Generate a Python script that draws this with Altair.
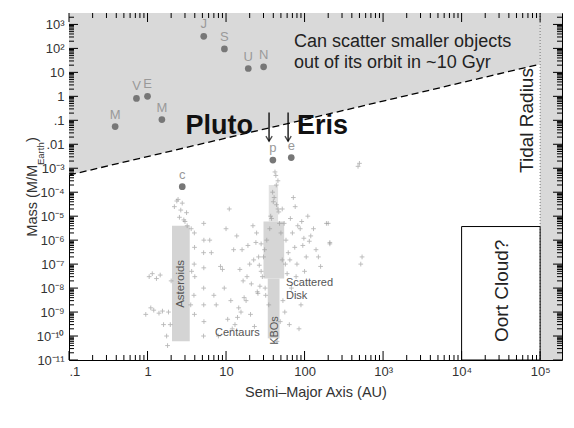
import altair as alt
import pandas as pd

# ---------------- data ----------------
planet_names = ["M", "V", "E", "M", "J", "S", "U", "N", "p", "e", "c"]
planet_a = [0.387, 0.723, 1.0, 1.524, 5.2, 9.54, 19.2, 30.1, 39.5, 67.7, 2.77]
planet_m = [0.055, 0.815, 1.0, 0.107, 318, 95.2, 14.5, 17.1, 0.0022, 0.0028, 0.00017]

# small bodies (semi-major axis AU, mass in Earth masses)
small_a = [
    # near-Earth
    1.05, 1.15, 1.3, 1.45, 1.2, 1.4, 1.55, 1.1, 1.6, 1.75, 0.95, 1.8,
    # asteroid outliers, Hildas, Trojans
    2.36, 2.77, 3.14, 2.55, 3.0, 2.2, 3.2, 2.65, 2.45, 2.9, 1.95, 1.85, 2.0,
    3.6, 3.65, 3.55, 3.95, 3.97, 3.93, 4.0, 3.9, 3.96,
    5.2, 5.22, 5.18, 5.21, 5.19, 5.2, 5.23, 5.17,
    # centaurs
    6.5, 7.5, 8.5, 9.5, 10.5, 11.5, 12.5, 13.7, 15, 16.5, 18, 20, 22, 24, 26,
    28, 8, 10, 14, 17, 21, 25, 7, 12, 19, 23, 9, 15.5, 27, 11, 6.2, 13,
    18.5, 22.5, 25.5, 16, 20.5, 24.5, 14.5, 26.5,
    # KBOs (outside the dense core)
    43.1, 45.8, 43.7, 39.2, 41, 44, 47, 38, 48, 36, 42, 40, 46, 37, 50, 33,
    31, 52, 35, 44.5, 29, 30, 32, 28, 57, 53, 49, 31.5,
    # scattered disk
    52, 55, 58, 62, 66, 70, 75, 80, 88, 95, 105, 120, 140, 160, 190, 210, 60,
    68, 78, 90, 110, 130, 150, 56, 64, 85, 100, 72, 65, 82, 98, 115, 76, 92,
    # distant
    200, 210, 480, 500, 520, 540,
]
small_m = [
    3e-8, 4e-8, 2.5e-8, 3.5e-8, 1.2e-9, 9e-10, 1.1e-9, 1.5e-9, 3e-10, 1e-10, 8e-10, 4e-11,
    4.3e-5, 3.5e-5, 1.4e-5, 9e-6, 6e-6, 2.5e-5, 4e-6, 1.8e-5, 5e-5, 7e-6, 3e-10, 1e-9, 2e-8,
    3e-6, 5e-8, 2e-9, 2e-6, 5e-7, 1e-7, 3e-8, 5e-9, 8e-10,
    5e-6, 1e-6, 3e-7, 7e-8, 1e-8, 2e-9, 4e-10, 1e-10,
    3e-7, 2e-9, 8e-8, 1e-8, 5e-10, 3e-9, 4e-7, 1.5e-6, 6e-8, 2e-8, 3e-9, 1e-7, 4e-6, 8e-7, 2e-7,
    5e-8, 1e-10, 3e-6, 6e-10, 4e-9, 1.5e-8, 7e-9, 5e-9, 2e-10, 6e-7, 2.5e-10, 6e-8, 1e-9, 1.2e-8, 2e-5, 1e-6, 3e-10,
    3e-8, 1.5e-7, 6e-9, 4e-7, 8e-10, 2e-6, 1.5e-9, 9e-8,
    5e-4, 3e-4, 2e-4, 1e-4, 6e-5, 3e-5, 1.5e-5, 8e-6, 5e-6, 3e-6, 7e-4, 4e-5, 2e-5, 1e-5, 2e-6,
    1e-6, 4e-7, 1.5e-7, 2e-9, 6e-11, 3e-8, 2e-7, 5e-9, 7e-7, 1e-7, 3e-9, 4e-10, 1e-8,
    2e-5, 5e-6, 1e-6, 3e-7, 8e-6, 2e-6, 5e-7, 1e-7, 3e-6, 6e-7, 2e-7, 1.5e-6, 4e-7, 8e-8, 5e-6,
    7e-7, 4e-8, 1e-8, 3e-8, 2e-9, 1e-5, 3e-6, 2e-7, 1e-9, 3e-10, 2e-10, 5e-8, 6e-5,
    1.5e-7, 4e-6, 1.2e-6, 9e-7, 2.5e-5, 6e-6,
    5e-6, 8e-7, 1.2e-3, 1.6e-3, 1e-7, 2e-7,
]

# dense populations (asteroid belt, Kuiper belt)
band_a1 = [2.05, 35.0, 30.0, 34.0]
band_a2 = [3.45, 46.0, 55.0, 48.0]
band_m1 = [6e-11, 6e-6, 2.5e-8, 8e-11]
band_m2 = [4e-6, 2e-4, 6e-6, 2.5e-8]
band_tone = ["#d4d4d4", "#e2e2e2", "#d6d6d6", "#d4d4d4"]

# Stern-Levison boundary
boundary_a = [0.1, 1e5]
boundary_m = [5.2e-4, 22]
mass_top = 3e3

tidal_radius = [1e5]
oort_a1, oort_a2, oort_m = [1e4], [1e5], [3.7e-6]

# arrows pointing at Pluto and Eris
arrow_a = [35.3, 61.7]
arrow_m_tail = [0.21, 0.21]
arrow_m_tip = [0.0135, 0.0135]

x_ticks = [0.1, 1, 10, 100, 1e3, 1e4, 1e5]
x_labels = [".1", "1", "10", "100", "10³", "10⁴", "10⁵"]
y_ticks = [1e-11, 1e-10, 1e-9, 1e-8, 1e-7, 1e-6, 1e-5, 1e-4, 1e-3, 0.01, 0.1, 1, 10, 100, 1000]
y_labels = ["10⁻¹¹", "10⁻¹⁰", "10⁻⁹", "10⁻⁸", "10⁻⁷", "10⁻⁶", "10⁻⁵", "10⁻⁴",
            "10⁻³", ".01", ".1", "1", "10", "10²", "10³"]

# ---------------- layout ----------------
W, H = 493, 347
FONT = "Liberation Sans"
xs = alt.Scale(type="log", domain=[0.1, 1.9e5], nice=False)
ys = alt.Scale(type="log", domain=[1e-11, mass_top], nice=False)

x_lab_expr = "[" + ",".join("'%s'" % s for s in x_labels) + "][round(log(datum.value)/LN10)+1]"
y_lab_expr = "[" + ",".join("'%s'" % s for s in y_labels) + "][round(log(datum.value)/LN10)+11]"

xa = alt.Axis(values=x_ticks, labelExpr=x_lab_expr, title="Semi–Major Axis (AU)",
              ticks=False, domain=False, grid=False, labelPadding=5, titlePadding=7,
              labelFont=FONT, labelFontSize=13, labelColor="#333",
              titleFont=FONT, titleFontSize=14.5, titleFontWeight="normal", titleColor="#333")
ya = alt.Axis(values=y_ticks, labelExpr=y_lab_expr, title="",
              ticks=False, domain=False, grid=False, labelPadding=5,
              labelFont=FONT, labelFontSize=13, labelColor="#333")

X = lambda f: alt.X(f + ":Q", scale=xs, axis=xa)
Y = lambda f: alt.Y(f + ":Q", scale=ys, axis=ya)

shade = "#d9d9d9"

boundary = pd.DataFrame({"a": boundary_a, "m": boundary_m, "top": [mass_top] * 2})
region = alt.Chart(boundary).mark_area(color=shade, opacity=1).encode(
    x=X("a"), y=Y("m"), y2="top:Q")
line = alt.Chart(boundary).mark_line(color="black", strokeDash=[7, 4], strokeWidth=1.3).encode(
    x=X("a"), y=Y("m"))

tidal = pd.DataFrame({"a": tidal_radius})
strip = alt.Chart(tidal).mark_rect(color=shade).encode(
    x=X("a"), x2=alt.value(W), y=alt.value(0), y2=alt.value(H))
tidal_line = alt.Chart(tidal).mark_rule(color="#777", strokeDash=[1, 2]).encode(
    x=X("a"), y=alt.value(0), y2=alt.value(H))

bands = pd.DataFrame({"a": band_a1, "a2": band_a2, "m": band_m1, "m2": band_m2, "c": band_tone})
band_layer = alt.Chart(bands).mark_rect().encode(
    x=X("a"), x2="a2:Q", y=Y("m"), y2="m2:Q", color=alt.Color("c:N", scale=None))

small = pd.DataFrame({"a": small_a, "m": small_m})
small_layer = alt.Chart(small).mark_point(
    shape="M-1,0L1,0M0,-1L0,1", size=22, color="#9a9a9a", strokeWidth=0.9).encode(
    x=X("a"), y=Y("m"))

oort = pd.DataFrame({"a": oort_a1, "a2": oort_a2, "m": oort_m})
oort_box = alt.Chart(oort).mark_rect(fillOpacity=0, stroke="black", strokeWidth=1).encode(
    x=X("a"), x2="a2:Q", y=Y("m"), y2=alt.value(H))

planets = pd.DataFrame({"name": planet_names, "a": planet_a, "m": planet_m})
planet_pts = alt.Chart(planets).mark_circle(size=45, color="#777777", opacity=1).encode(
    x=X("a"), y=Y("m"))
planet_lab = alt.Chart(planets).mark_text(font=FONT, fontSize=13, color="#999999", dy=-12).encode(
    x=X("a"), y=Y("m"), text="name:N")

arrows = pd.DataFrame({"a": arrow_a, "m": arrow_m_tail, "m2": arrow_m_tip})
arrow_shaft = alt.Chart(arrows).mark_rule(color="black", strokeWidth=1.3).encode(
    x=X("a"), y=Y("m"), y2="m2:Q")
arrow_head = alt.Chart(arrows).mark_point(
    shape="M-1,-1.6L0,0L1,-1.6", size=40, color="black", strokeWidth=1.3, filled=False).encode(
    x=X("a"), y=Y("m2"))

# inward ticks
minor_x = [m * 10 ** k for k in range(-1, 6) for m in range(2, 10) if m * 10 ** k < 1.9e5]
minor_y = [m * 10.0 ** k for k in range(-11, 4) for m in range(2, 10) if m * 10.0 ** k < 3e3]
tx = pd.DataFrame({"a": x_ticks})
tmx = pd.DataFrame({"a": minor_x})
ty = pd.DataFrame({"m": y_ticks})
tmy = pd.DataFrame({"m": minor_y})
tick_layers = [
    alt.Chart(tx).mark_rule(color="black").encode(x=X("a"), y=alt.value(H - 9), y2=alt.value(H)),
    alt.Chart(tx).mark_rule(color="black").encode(x=X("a"), y=alt.value(0), y2=alt.value(9)),
    alt.Chart(tmx).mark_rule(color="black").encode(x=X("a"), y=alt.value(H - 5), y2=alt.value(H)),
    alt.Chart(tmx).mark_rule(color="black").encode(x=X("a"), y=alt.value(0), y2=alt.value(5)),
    alt.Chart(ty).mark_rule(color="black").encode(y=Y("m"), x=alt.value(0), x2=alt.value(9)),
    alt.Chart(ty).mark_rule(color="black").encode(y=Y("m"), x=alt.value(W - 9), x2=alt.value(W)),
    alt.Chart(tmy).mark_rule(color="black").encode(y=Y("m"), x=alt.value(0), x2=alt.value(5)),
    alt.Chart(tmy).mark_rule(color="black").encode(y=Y("m"), x=alt.value(W - 5), x2=alt.value(W)),
]


def note(text, a, m, size, color="#111", weight="normal", angle=0, align="left", baseline="alphabetic"):
    d = pd.DataFrame({"a": [a], "m": [m], "t": [text]})
    return alt.Chart(d).mark_text(font=FONT, fontSize=size, color=color, fontWeight=weight,
                                  angle=angle, align=align, baseline=baseline).encode(
        x=X("a"), y=Y("m"), text="t:N")


notes = [
    note("Pluto", 22.1, 0.0259, 27, weight="bold", align="right"),
    note("Eris", 80.2, 0.0259, 27, weight="bold"),
    note("Can scatter smaller objects", 73.5, 112, 18, color="#222"),
    note("out of its orbit in ~10 Gyr", 73.5, 15.2, 18, color="#222"),
    note("Tidal Radius", 6.8e4, 0.098, 19, color="#222", angle=270, align="center", baseline="middle"),
    note("Oort Cloud?", 3.28e4, 7.7e-9, 19, color="#222", angle=270, align="center", baseline="middle"),
    note("Asteroids", 2.67, 1.5e-8, 11.5, color="#555", angle=270, align="center", baseline="middle"),
    note("Scattered", 58, 1.64e-8, 11, color="#555", baseline="middle"),
    note("Disk", 58, 4.8e-9, 11, color="#555", baseline="middle"),
    note("Centaurs", 7.24, 1.4e-10, 11, color="#555", baseline="middle"),
    note("KBOs", 42, 1.7e-10, 11, color="#555", angle=270, align="center", baseline="middle"),
]

# y-axis title with subscript
Y0 = 152
ytitle = [
    alt.Chart(pd.DataFrame({"t": ["Mass (M/M"]})).mark_text(
        font=FONT, fontSize=14.5, color="#333", angle=270, align="right").encode(
        x=alt.value(-36), y=alt.value(Y0), text="t:N"),
    alt.Chart(pd.DataFrame({"t": ["Earth"]})).mark_text(
        font=FONT, fontSize=9.5, color="#333", angle=270, align="left").encode(
        x=alt.value(-28), y=alt.value(Y0), text="t:N"),
    alt.Chart(pd.DataFrame({"t": [")"]})).mark_text(
        font=FONT, fontSize=14.5, color="#333", angle=270, align="left").encode(
        x=alt.value(-36), y=alt.value(Y0 - 23), text="t:N"),
]

chart = alt.layer(
    region, strip, band_layer, small_layer, line, tidal_line, oort_box,
    *tick_layers, planet_pts, planet_lab, arrow_shaft, arrow_head, *notes, *ytitle,
).properties(
    width=W, height=H,
    autosize=alt.AutoSizeParams(type="none"),
    padding={"left": 61, "top": 5, "right": 4, "bottom": 52},
    background="white",
).configure_view(stroke="black", strokeWidth=1)

chart.save("out.html", embed_options={"renderer": "svg", "actions": False})
